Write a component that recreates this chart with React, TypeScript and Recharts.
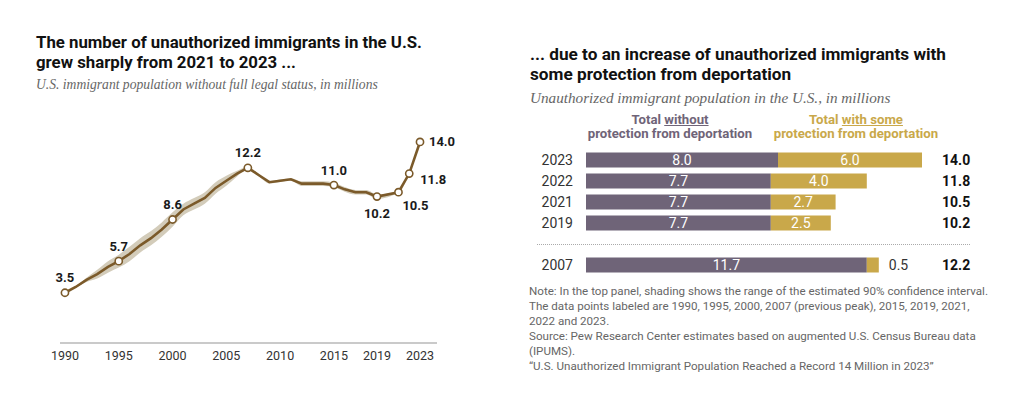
import { Area, Bar, BarChart, ComposedChart, LabelList, Line, XAxis, YAxis } from 'recharts'

const brown = '#7b5a2a'
const band = '#d3ccba'
const purple = '#6f6478'
const gold = '#c9a84a'

// left panel: total unauthorized population, millions (2020 not estimated)
const years = [
  1990, 1991, 1992, 1993, 1994, 1995, 1996, 1997, 1998, 1999, 2000, 2001, 2002, 2003, 2004, 2005,
  2006, 2007, 2008, 2009, 2010, 2011, 2012, 2013, 2014, 2015, 2016, 2017, 2018, 2019, 2021, 2022,
  2023,
]
const totals = [
  3.5, 3.9, 4.4, 4.8, 5.3, 5.7, 6.2, 6.8, 7.3, 7.9, 8.6, 9.3, 9.7, 10.1, 10.8, 11.3, 11.8, 12.2,
  11.7, 11.2, 11.3, 11.4, 11.1, 11.1, 11.1, 11.0, 10.7, 10.5, 10.5, 10.2, 10.5, 11.8, 14.0,
]
// 90% confidence interval (shaded)
const ciLow = [
  3.5, 3.85, 4.25, 4.5, 4.9, 5.25, 5.7, 6.3, 6.8, 7.4, 8.1, 8.9, 9.3, 9.7, 10.4, 10.95, 11.6,
  12.12, 11.62, 11.12, 11.22, 11.32, 10.94, 10.94, 10.94, 10.84, 10.54, 10.34, 10.34, 10.04, 10.5,
  11.8, 14.0,
]
const ciHigh = [
  3.5, 3.95, 4.55, 5.1, 5.7, 6.15, 6.7, 7.3, 7.8, 8.4, 9.1, 9.7, 10.1, 10.5, 11.2, 11.65, 12.0,
  12.28, 11.78, 11.28, 11.38, 11.48, 11.26, 11.26, 11.26, 11.16, 10.86, 10.66, 10.66, 10.36, 10.5,
  11.8, 14.0,
]
const tickYears = [1990, 1995, 2000, 2005, 2010, 2015, 2019, 2023]
const labeledYears = [1990, 1995, 2000, 2007, 2015, 2019, 2021, 2022, 2023]

// right panel
const barYears = ['2023', '2022', '2021', '2019', '', '2007']
const withoutProtection = [8.0, 7.7, 7.7, 7.7, null, 11.7]
const withProtection = [6.0, 4.0, 2.7, 2.5, null, 0.5]
const barTotals = ['14.0', '11.8', '10.5', '10.2', '', '12.2']

const lineData = years.map((year, i) => ({
  year,
  total: totals[i],
  ci: [ciLow[i], ciHigh[i]],
}))

const barData = barYears.map((year, i) => ({
  year,
  without: withoutProtection[i],
  withSome: withProtection[i],
  totalLabel: barTotals[i],
}))

// label offset from the point, by year
const labelOffset: Record<number, [number, number]> = {
  2019: [0, 17],
  2021: [17, 13],
  2022: [24, 6],
  2023: [22, 0],
}

const sans = 'Roboto, "Noto Sans", sans-serif'
const serif = '"Liberation Serif", "DejaVu Serif", serif'

function renderDot(props: any) {
  const { cx, cy, payload } = props
  if (!labeledYears.includes(payload.year)) return <g key={`d-${payload.year}`} />
  return (
    <circle
      key={`d-${payload.year}`}
      cx={cx}
      cy={cy}
      r={3.6}
      fill="#fff"
      stroke={brown}
      strokeWidth={1.6}
    />
  )
}

function renderPointLabel(props: any) {
  const { x, y, value, index } = props
  const year = years[index]
  if (!labeledYears.includes(year)) return null
  const [dx, dy] = labelOffset[year] ?? [0, -15]
  return (
    <text
      x={x + dx}
      y={y + dy}
      textAnchor="middle"
      dominantBaseline="central"
      fontFamily={sans}
      fontWeight={700}
      fontSize={13}
      fill="#1a1a1a"
    >
      {Number(value).toFixed(1)}
    </text>
  )
}

function renderWithLabel(props: any) {
  const { x, y, width, height, value } = props
  if (value == null) return null
  if (value < 1) {
    return (
      <text
        x={x + width + 10}
        y={y + height / 2}
        dominantBaseline="central"
        fontFamily={sans}
        fontSize={14}
        fill="#333"
      >
        {Number(value).toFixed(1)}
      </text>
    )
  }
  return (
    <text
      x={x + width / 2}
      y={y + height / 2}
      textAnchor="middle"
      dominantBaseline="central"
      fontFamily={sans}
      fontSize={14}
      fill="#fff"
    >
      {Number(value).toFixed(1)}
    </text>
  )
}

function renderWithoutLabel(props: any) {
  const { x, y, width, height, value } = props
  if (value == null) return null
  return (
    <text
      x={x + width / 2}
      y={y + height / 2}
      textAnchor="middle"
      dominantBaseline="central"
      fontFamily={sans}
      fontSize={14}
      fill="#fff"
    >
      {Number(value).toFixed(1)}
    </text>
  )
}

const titleStyle: React.CSSProperties = {
  position: 'absolute',
  fontFamily: sans,
  fontWeight: 700,
  fontSize: 17,
  lineHeight: '20px',
  color: '#111',
  whiteSpace: 'nowrap',
}

const subtitleStyle: React.CSSProperties = {
  position: 'absolute',
  fontFamily: serif,
  fontStyle: 'italic',
  color: '#666',
  whiteSpace: 'nowrap',
}

const headerStyle: React.CSSProperties = {
  position: 'absolute',
  top: 113,
  width: 200,
  textAlign: 'center',
  fontFamily: sans,
  fontWeight: 700,
  fontSize: 13.2,
  lineHeight: '14px',
}

export default function App() {
  return (
    <div
      style={{
        position: 'absolute',
        left: 0,
        top: 0,
        width: 1024,
        height: 394,
        background: '#fff',
        overflow: 'hidden',
      }}
    >
      {/* left panel */}
      <div style={{ ...titleStyle, left: 36, top: 32, fontSize: 16.8 }}>
        The number of unauthorized immigrants in the U.S.
        <br />
        grew sharply from 2021 to 2023 ...
      </div>
      <div style={{ ...subtitleStyle, left: 36, top: 77, fontSize: 13.6 }}>
        U.S. immigrant population without full legal status, in millions
      </div>
      <div style={{ position: 'absolute', left: 0, top: 0 }}>
        <ComposedChart
          width={460}
          height={394}
          data={lineData}
          margin={{ top: 127.6, right: 23, left: 60, bottom: 21 }}
        >
          <XAxis
            dataKey="year"
            type="number"
            domain={[1989.54, 2024.58]}
            allowDataOverflow
            ticks={tickYears}
            interval={0}
            height={30}
            tickLine={false}
            axisLine={{ stroke: '#b8b8b8', strokeWidth: 1.5 }}
            tick={{ fontFamily: sans, fontSize: 12.5, fill: '#333' }}
          />
          <YAxis hide domain={[0, 15]} />
          <Area
            dataKey="ci"
            type="monotone"
            stroke="none"
            fill={band}
            fillOpacity={1}
            isAnimationActive={false}
          />
          <Line
            dataKey="total"
            type="linear"
            stroke={brown}
            strokeWidth={2.6}
            dot={renderDot}
            activeDot={false}
            isAnimationActive={false}
          >
            <LabelList dataKey="total" content={renderPointLabel} />
          </Line>
        </ComposedChart>
      </div>

      {/* right panel */}
      <div style={{ ...titleStyle, left: 530, top: 44, fontSize: 17.2 }}>
        ... due to an increase of unauthorized immigrants with
        <br />
        some protection from deportation
      </div>
      <div style={{ ...subtitleStyle, left: 530, top: 89, fontSize: 15.2 }}>
        Unauthorized immigrant population in the U.S., in millions
      </div>
      <div style={{ ...headerStyle, left: 570, color: purple }}>
        Total <span style={{ textDecoration: 'underline' }}>without</span>
        <br />
        protection from deportation
      </div>
      <div style={{ ...headerStyle, left: 756, color: gold }}>
        Total <span style={{ textDecoration: 'underline' }}>with some</span>
        <br />
        protection from deportation
      </div>
      <div
        style={{
          position: 'absolute',
          left: 537,
          top: 244,
          width: 433,
          borderTop: '1.5px dotted #aaa',
        }}
      />
      <div style={{ position: 'absolute', left: 500, top: 140 }}>
        <BarChart
          width={480}
          height={146}
          data={barData}
          layout="vertical"
          barSize={15}
          margin={{ top: 9.5, right: 8, left: 26, bottom: 10.5 }}
        >
          <XAxis type="number" hide domain={[0, 14]} />
          <YAxis
            yAxisId="left"
            type="category"
            dataKey="year"
            width={60}
            axisLine={false}
            tickLine={false}
            tickSize={0}
            tickMargin={13}
            interval={0}
            tick={{ fontFamily: sans, fontSize: 14, fill: '#333' }}
          />
          <YAxis
            yAxisId="right"
            orientation="right"
            type="category"
            dataKey="totalLabel"
            width={50}
            axisLine={false}
            tickLine={false}
            tickSize={0}
            tickMargin={20}
            interval={0}
            tick={{ fontFamily: sans, fontSize: 14, fontWeight: 700, fill: '#111' }}
          />
          <Bar dataKey="without" stackId="a" yAxisId="left" fill={purple} isAnimationActive={false}>
            <LabelList dataKey="without" content={renderWithoutLabel} />
          </Bar>
          <Bar dataKey="withSome" stackId="a" yAxisId="left" fill={gold} isAnimationActive={false}>
            <LabelList dataKey="withSome" content={renderWithLabel} />
          </Bar>
        </BarChart>
      </div>

      {/* notes */}
      <div
        style={{
          position: 'absolute',
          left: 529,
          top: 284,
          fontFamily: sans,
          fontSize: 11.6,
          lineHeight: '15px',
          color: '#666',
          whiteSpace: 'nowrap',
        }}
      >
        Note: In the top panel, shading shows the range of the estimated 90% confidence interval.
        <br />
        The data points labeled are 1990, 1995, 2000, 2007 (previous peak), 2015, 2019, 2021,
        <br />
        2022 and 2023.
        <br />
        Source: Pew Research Center estimates based on augmented U.S. Census Bureau data
        <br />
        (IPUMS).
        <br />
        “U.S. Unauthorized Immigrant Population Reached a Record 14 Million in 2023”
      </div>
    </div>
  )
}
